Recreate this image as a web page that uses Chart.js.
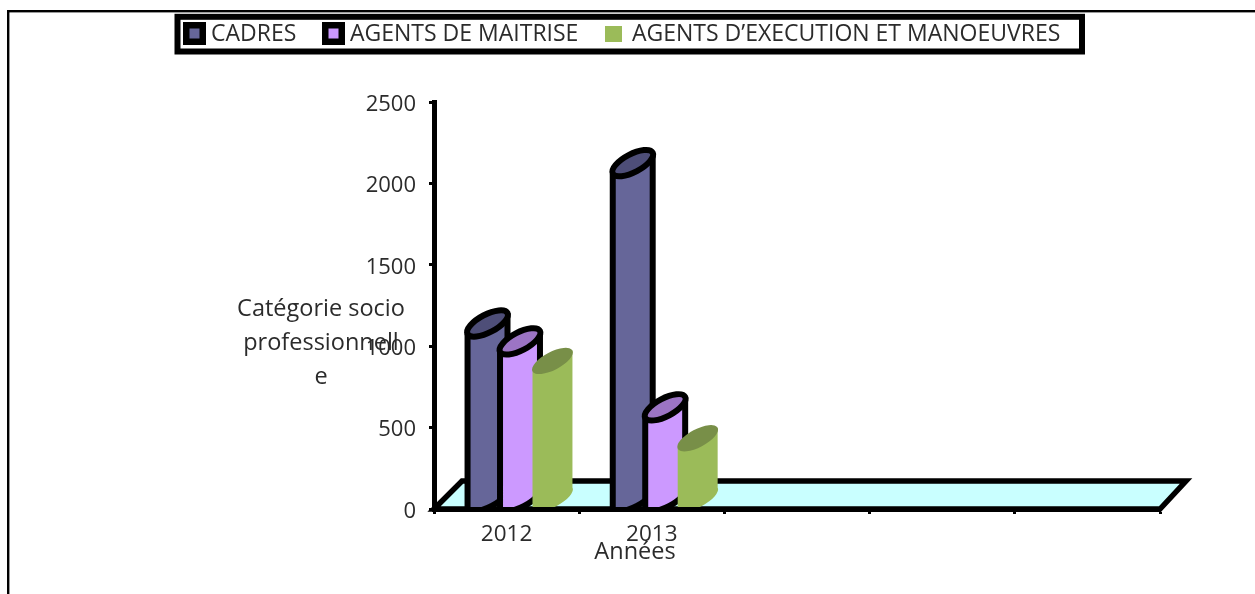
<!DOCTYPE html>
<html lang="fr">
<head>
<meta charset="utf-8">
<style>html,body{margin:0;padding:0;background:#fff;overflow:hidden}canvas{display:block}</style>
<script src="https://cdn.jsdelivr.net/npm/chart.js@4/dist/chart.umd.js"></script>
</head>
<body>
<canvas id="c" width="1255" height="594"></canvas>
<script>
const categories = ['2012', '2013', '', '', ''];
const cadres = [1075, 2060, null, null, null];
const agentsMaitrise = [965, 560, null, null, null];
const agentsExecution = [845, 370, null, null, null];
const yTicks = [0, 500, 1000, 1500, 2000, 2500];
const yTitleLines = ['Catégorie socio', 'professionnell', 'e'];
const xTitle = 'Années';

const FONT = '"Open Sans"';
const TEXT = '#2b2b2b';
const SHIFT = 13.4, RISE = 21, MINOR = 9;

function cylinder(ctx, el, area, body, top, stroked) {
  const w = el.width, L = el.x - w / 2 + SHIFT, R = L + w, yT = el.y, yB = el.base;
  const ell = (y) => ({ cx: (L + R) / 2, cy: y - RISE / 2, a: Math.hypot(w, RISE) / 2, r: Math.atan2(-RISE, w) });
  const t = ell(yT), b = ell(yB);
  ctx.save();
  ctx.beginPath();
  ctx.rect(0, 0, 1255, area.bottom - 2);
  ctx.clip();
  ctx.fillStyle = body;
  ctx.beginPath();
  ctx.ellipse(b.cx, b.cy, b.a, MINOR, b.r, 0, Math.PI);
  ctx.lineTo(L, yT);
  ctx.lineTo(R, yT - RISE);
  ctx.closePath();
  ctx.fill();
  if (stroked) {
    ctx.strokeStyle = '#000'; ctx.lineWidth = 6; ctx.lineJoin = 'round';
    ctx.beginPath();
    ctx.moveTo(L, yT);
    ctx.lineTo(L, yB);
    ctx.ellipse(b.cx, b.cy, b.a, MINOR, b.r, Math.PI, 0, true);
    ctx.lineTo(R, yT - RISE);
    ctx.stroke();
  }
  ctx.fillStyle = top;
  ctx.beginPath();
  ctx.ellipse(t.cx, t.cy, t.a, MINOR, t.r, 0, 2 * Math.PI);
  ctx.fill();
  if (stroked) { ctx.stroke(); }
  ctx.restore();
}

const topColors = ['#4E4E78', '#9C74C4', '#788F48'];

const scene = {
  id: 'scene',
  beforeDraw(chart) {
    const ctx = chart.ctx;
    ctx.save();
    ctx.fillStyle = '#000';
    ctx.fillRect(7, 10, 1248, 2.4);
    ctx.fillRect(7, 10, 2.4, 584);
    ctx.restore();
    chart.scales.y.getLabelItems().forEach(it => { if (!it.nudged) { it.textOffset += 2.5; it.nudged = true; } });
  },
  beforeDatasetsDraw(chart) {
    const ctx = chart.ctx, x = chart.scales.x, y = chart.scales.y, area = chart.chartArea;
    const y0 = y.getPixelForValue(0);
    ctx.save();
    ctx.fillStyle = '#C9FFFF'; ctx.strokeStyle = '#000'; ctx.lineWidth = 5.5; ctx.lineJoin = 'miter';
    ctx.beginPath();
    ctx.moveTo(x.left, y0);
    ctx.lineTo(x.left + 28, y0 - 28);
    ctx.lineTo(x.right + 26, y0 - 28);
    ctx.lineTo(x.right, y0);
    ctx.closePath();
    ctx.fill(); ctx.stroke();
    ctx.restore();
    chart.data.datasets.forEach((ds, i) => {
      chart.getDatasetMeta(i).data.forEach((el, j) => {
        if (ds.data[j] == null) return;
        cylinder(ctx, el, area, ds.backgroundColor, topColors[i], i < 2);
      });
    });
    return false;
  },
  afterDraw(chart) {
    const ctx = chart.ctx;
    ctx.save();
    ctx.strokeStyle = '#000'; ctx.lineWidth = 6;
    ctx.fillStyle = '#fff';
    ctx.fillRect(177, 17, 905, 35);
    ctx.strokeRect(177.5, 16.8, 904.5, 34.7);
    const boxX = [183, 322, 605], textX = [211, 350, 632];
    ctx.textBaseline = 'middle'; ctx.textAlign = 'left';
    chart.data.datasets.forEach((ds, i) => {
      if (i < 2) {
        ctx.fillStyle = '#000'; ctx.fillRect(boxX[i], 22, 23, 23);
        ctx.fillStyle = ds.backgroundColor; ctx.fillRect(boxX[i] + 6.5, 28.5, 10, 10);
      } else {
        ctx.fillStyle = ds.backgroundColor; ctx.fillRect(boxX[i], 26, 17, 16);
      }
      ctx.fillStyle = TEXT;
      ctx.font = '500 23px ' + FONT;
      ctx.fillText(ds.label, textX[i], 34);
    });
    ctx.fillStyle = TEXT;
    ctx.textAlign = 'center';
    ctx.font = '500 23.5px ' + FONT;
    yTitleLines.forEach((t, i) => ctx.fillText(t, 321, 309 + i * 34));
    ctx.fillText(xTitle, 635, 552);
    ctx.restore();
  }
};

new Chart(document.getElementById('c'), {
  type: 'bar',
  data: {
    labels: categories,
    datasets: [
      { label: 'CADRES', data: cadres, backgroundColor: '#666699', categoryPercentage: 0.671, barPercentage: 1.23 },
      { label: 'AGENTS DE MAITRISE', data: agentsMaitrise, backgroundColor: '#CC99FF', categoryPercentage: 0.671, barPercentage: 1.23 },
      { label: 'AGENTS D’EXECUTION ET MANOEUVRES', data: agentsExecution, backgroundColor: '#9BBB59', categoryPercentage: 0.671, barPercentage: 1.23 }
    ]
  },
  options: {
    responsive: false,
    animation: false,
    layout: { padding: { left: 0, right: 95, top: 102, bottom: 0 } },
    plugins: { legend: { display: false }, tooltip: { enabled: false }, title: { display: false } },
    scales: {
      x: {
        afterFit(s) { s.height = 85; },
        border: { display: true, color: '#000', width: 5 },
        grid: { display: true, drawOnChartArea: false, drawTicks: true, tickLength: 5, tickColor: '#000', tickWidth: 3 },
        ticks: { color: TEXT, font: { family: FONT, size: 22.5 }, padding: 7, maxRotation: 0, autoSkip: false }
      },
      y: {
        min: 0, max: 2500,
        afterFit(s) { s.width = 434; },
        afterBuildTicks(s) { s.ticks = yTicks.map(v => ({ value: v })); },
        border: { display: true, color: '#000', width: 5 },
        grid: { display: true, drawOnChartArea: false, drawTicks: true, tickLength: 5, tickColor: '#000', tickWidth: 3 },
        ticks: { color: TEXT, font: { family: FONT, size: 22 }, padding: 13, callback: v => String(v) }
      }
    }
  },
  plugins: [scene]
});
</script>
</body>
</html>
